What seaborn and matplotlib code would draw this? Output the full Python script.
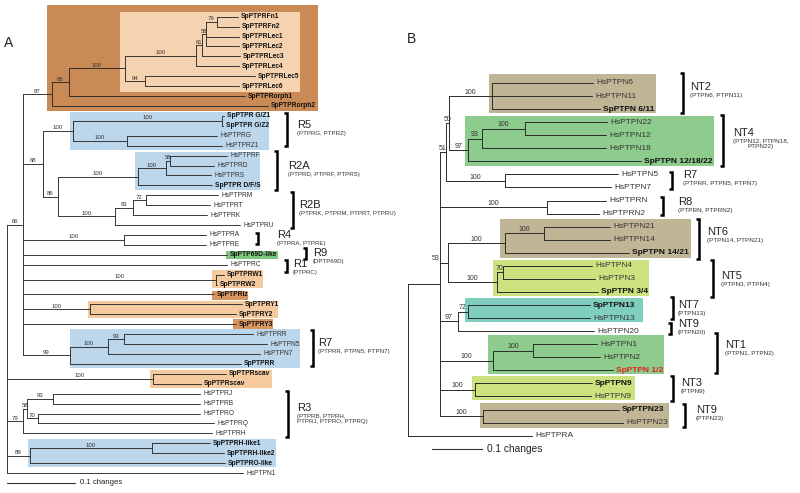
import matplotlib
matplotlib.use("Agg")
import matplotlib.pyplot as plt
import seaborn as sns
import pandas as pd
from matplotlib.patches import Rectangle

# ---------------- data: trees as Newick clades (branch lengths in scale units, 68 = 0.1 changes in A, 50 = 0.1 in B)
A_FN = "('SpPTPRFn1':21,'SpPTPRFn2':22)79:11"
A_LEC = "(((" + A_FN + ",'SpPTPRLec1':33,'SpPTPRLec2':33)58:4,'SpPTPRLec3':38)61:6,'SpPTPRLec4':43)100:71"
A_LEC56 = "('SpPTPRLec5':110,'SpPTPRLec6':94)94:20"
A_ORPH = "(((" + A_LEC + "," + A_LEC56 + ")100:56,'SpPTPRorph1':176)95:17,'SpPTPRorph2':216)87:29"
A_R5 = "(('SpPTPR G/Z1':2,'SpPTPR G/Z2':1)100:149,('HsPTPRG':90,'HsPTPRZ1':95)100:54)100:30"
A_R2A = "((('HsPTPRF':57,'HsPTPRD':44)58:4,'HsPTPRS':45)100:28,'SpPTPR D/F/S':74)100:80"
A_R2B = "((('HsPTPRM':72,'HsPTPRT':64)72:13,'HsPTPRK':74)83:18,'HsPTPRU':125)100:57"
A_R4 = "('HsPTPRA':82,'HsPTPRE':82)100:101"
A_W = "('SpPTPRW1':8,'SpPTPRW2':1)100:193"
A_Y = "('SpPTPRY1':152,'SpPTPRY2':146)100:67"
A_R7 = "((('HsPTPRR':129,'HsPTPN5':143)93:16,'HsPTPN7':152)100:38,'SpPTPRR':171)99:47"
A_SCAV = "('SpPTPRscav':73,'SpPTPRscav':48)100:146"
A_R3 = "((('HsPTPRJ':147,'HsPTPRB':147)93:26,('HsPTPRO':162,'HsPTPRQ':176)70:11)58:4,'HsPTPRH':189)79:16"
A_HLIKE = "(('SpPTPRH-like1':58,'SpPTPRH-like2':72)100:122,'SpPTPRO-like':195)89:23"
TREE_A = ("((" + A_ORPH + ",(" + A_R5 + ",(" + A_R2A + "," + A_R2B + ")86:15)68:20," + A_R4 +
          ",'SpPTP69D-like':204,'HsPTPRC':204," + A_W + ",'SpPTPRiz':191," + A_Y +
          ",'SpPTPRY3':213," + A_R7 + ")66:16," + A_SCAV + "," + A_R3 + "," + A_HLIKE +
          ",'HsPTPN1':236);")

B_NT2 = "('HsPTPN6':101,'HsPTPN11':100,'SpPTPN 6/11':108)100:43"
B_NT4 = "((('HsPTPN22':82,'HsPTPN12':81)100:43,'HsPTPN18':124)93:14,'SpPTPN 12/18/22':173)97:19"
B_R7 = "('HsPTPN5':113,'HsPTPN7':106)100:59"
B_R8 = "('HsPTPRN':59,'HsPTPRN2':52)100:107"
B_NT6 = "(('HsPTPN21':66,'HsPTPN14':66)100:39,'SpPTPN 14/21':124)100:57"
B_NT5 = "(('HsPTPN4':89,'HsPTPN3':92)70:6,'SpPTPN 3/4':101)100:49"
B_NT79 = "(('SpPTPN13':122,'HsPTPN13':122)72:10,'HsPTPN20':136)97:18"
B_NT1 = "(('HsPTPN1':64,'HsPTPN2':67)100:40,'SpPTPN 1/2':120)100:53"
B_NT3 = "('SpPTPN9':117,'HsPTPN9':116)100:35"
B_NT9 = "('SpPTPN23':136,'HsPTPN23':140)100:43"
TREE_B = ("((((" + B_NT2 + "," + B_NT4 + ")50:3," + B_R7 + ")51:6," + B_R8 + ",(" + B_NT6 + "," +
          B_NT5 + ")53:8," + B_NT79 + "," + B_NT1 + "," + B_NT3 + "," + B_NT9 + "):32,'HsPTPRA':124);")

SCALE_UNITS_A = 68.0   # scale units per 0.1 changes
SCALE_UNITS_B = 50.0
HIGHLIGHT_RED = ["SpPTPN 1/2"]

# clade labels: (name, members)
GROUPS_A = [("R5", "(PTPRG, PTPRZ)"), ("R2A", "(PTPRD, PTPRF, PTPRS)"),
            ("R2B", "(PTPRK, PTPRM, PTPRT, PTPRU)"), ("R4", "(PTPRA, PTPRE)"),
            ("R9", "(DPTP69D)"), ("R1", "(PTPRC)"), ("R7", "(PTPRR, PTPN5, PTPN7)"),
            ("R3", "(PTPRB, PTPRH,\nPTPRJ, PTPRO, PTPRQ)")]
GROUPS_B = [("NT2", "(PTPN6, PTPN11)"), ("NT4", "(PTPN12, PTPN18,\nPTPN22)"),
            ("R7", "(PTPRR, PTPN5, PTPN7)"), ("R8", "(PTPRN, PTPRN2)"),
            ("NT6", "(PTPN14, PTPN21)"), ("NT5", "(PTPN3, PTPN4)"), ("NT7", "(PTPN13)"),
            ("NT9", "(PTPN20)"), ("NT1", "(PTPN1, PTPN2)"), ("NT3", "(PTPN9)"),
            ("NT9", "(PTPN23)")]

# ---------------- layout (pixels of the 800x493 canvas)
# bracket: x, y0, y1, text x, name y
BRK_A = [(287, 113, 146, 297, 125), (277, 151, 190, 288, 166),
         (293, 192, 228, 299, 205), (258, 233, 244, 277, 235),
         (306, 248, 259, 313, 253), (287, 260, 272, 293, 264),
         (313, 330, 366, 318, 343), (288, 391, 437, 297, 408)]
BRK_B = [(683, 73, 113, 690, 87), (723, 115, 166, 733, 133),
         (672, 172, 189, 683, 175), (663, 197, 215, 678, 202),
         (699, 219, 259, 707, 232), (713, 260, 297, 721, 276),
         (673, 297, 319, 678, 305), (671, 323, 334, 678, 324),
         (717, 333, 373, 725, 345), (673, 376, 401, 681, 383),
         (685, 404, 427, 696, 410)]
SUB_ALIGN_B = {1: "center"}
SUPPORT_SHIFT_B = {"53": -6.0}   # points

BLUE, BROWN, PEACH, ORANGE, DORANGE = "#BCD6EB", "#C98A55", "#F6D3B0", "#F6CA9F", "#D9955E"
GREEN, TAN, LIME, TEAL = "#8DCC8D", "#C0B595", "#CBE27E", "#80CEBE"
BOX_A = [(47, 5, 318, 111, BROWN), (120, 12, 300, 92, PEACH), (70, 112, 269, 150, BLUE),
         (135, 152, 260, 190, BLUE), (226, 251, 278, 259, "#7CC77C"), (212, 270, 263, 288, ORANGE),
         (212, 291, 248, 300, DORANGE), (88, 301, 278, 318, ORANGE), (233, 319, 273, 329, DORANGE),
         (70, 329, 300, 368, BLUE), (150, 370, 272, 388, ORANGE), (28, 439, 276, 467, BLUE)]
BOX_B = [(489, 74, 656, 113, TAN), (465, 116, 714, 166, GREEN), (500, 219, 691, 258, TAN),
         (493, 260, 649, 296, LIME), (465, 298, 643, 322, TEAL), (488, 335, 664, 374, GREEN),
         (472, 376, 635, 400, LIME), (480, 403, 669, 428, TAN)]


def parse_newick(text):
    pos = 0

    def skip():
        nonlocal pos
        while pos < len(text) and text[pos].isspace():
            pos += 1

    def read_label():
        nonlocal pos
        skip()
        if pos < len(text) and text[pos] == "'":
            end = text.index("'", pos + 1)
            lab = text[pos + 1:end]
            pos = end + 1
            return lab
        start = pos
        while pos < len(text) and text[pos] not in ",():;":
            pos += 1
        return text[start:pos].strip()

    def read_length():
        nonlocal pos
        skip()
        if pos < len(text) and text[pos] == ":":
            pos += 1
            start = pos
            while pos < len(text) and text[pos] not in ",();":
                pos += 1
            return float(text[start:pos])
        return 0.0

    def node():
        nonlocal pos
        skip()
        n = {"children": [], "name": None, "support": None}
        if text[pos] == "(":
            pos += 1
            while True:
                n["children"].append(node())
                skip()
                ch = text[pos]
                pos += 1
                if ch == ")":
                    break
            n["support"] = read_label() or None
        else:
            n["name"] = read_label()
        n["length"] = read_length()
        return n

    return node()


def layout(root, unit_per_tenth):
    leaves, nodes = [], []

    def walk(n, px, parent):
        n["x"] = px + n["length"] * 0.1 / unit_per_tenth
        n["parent"] = parent
        if n["children"]:
            for c in n["children"]:
                walk(c, n["x"], n)
            n["y"] = (n["children"][0]["y"] + n["children"][-1]["y"]) / 2
        else:
            n["y"] = len(leaves)
            leaves.append(n)
        nodes.append(n)

    walk(root, 0.0, None)
    return leaves, nodes


FONT = "Liberation Sans"
sns.set_theme(style="white")
plt.rcParams["font.family"] = [FONT, "DejaVu Sans"]

W, H = 800, 493
fig = plt.figure(figsize=(8, 4.93), dpi=100)
fig.patch.set_facecolor("white")

PANELS = [
    dict(tree=TREE_A, unit=SCALE_UNITS_A, rect=[0, 0, 0.5, 1], px0=0, px1=400, root_px=7,
         px_per_change=680, row0=16.7, row=9.92, boxes=BOX_A, brk=BRK_A, groups=GROUPS_A,
         leaf_fs=4.8, sup_fs=4.3, name_fs=8.0, sub_fs=4.4, letter="A", letter_xy=(9, 43),
         bar=(7, 483, 5.6), sub_align={}, shift={}, lw=0.65),
    dict(tree=TREE_B, unit=SCALE_UNITS_B, rect=[0.5, 0, 0.5, 1], px0=400, px1=800, root_px=408,
         px_per_change=500, row0=83, row=13.06, boxes=BOX_B, brk=BRK_B, groups=GROUPS_B,
         leaf_fs=6.0, sup_fs=5.0, name_fs=8.0, sub_fs=4.6, letter="B", letter_xy=(411, 39),
         bar=(432, 449, 7.3), sub_align=SUB_ALIGN_B, shift=SUPPORT_SHIFT_B, lw=0.7),
]

for P in PANELS:
    ax = fig.add_axes(P["rect"])
    root = parse_newick(P["tree"])
    leaves, nodes = layout(root, P["unit"])

    def dx(px, P=P):
        return (px - P["root_px"]) / P["px_per_change"]

    def dy(py, P=P):
        return (py - P["row0"]) / P["row"]

    # coloured clade boxes
    for (x0, y0, x1, y1, col) in P["boxes"]:
        ax.add_patch(Rectangle((dx(x0), dy(y0)), dx(x1) - dx(x0), dy(y1) - dy(y0),
                               facecolor=col, edgecolor="none", zorder=0))

    # tree segments
    rows, seg = [], 0
    for n in nodes:
        if n["parent"] is not None:
            rows += [(seg, n["parent"]["x"], n["y"]), (seg, n["x"], n["y"])]
            seg += 1
        if n["children"]:
            rows += [(seg, n["x"], n["children"][0]["y"]), (seg, n["x"], n["children"][-1]["y"])]
            seg += 1
    df = pd.DataFrame(rows, columns=["seg", "x", "y"])
    sns.lineplot(data=df, x="x", y="y", units="seg", estimator=None, sort=False,
                 color="#2b2b2b", linewidth=P["lw"], ax=ax, legend=False, zorder=2)

    # leaf labels
    for lf in leaves:
        name = lf["name"]
        sp = name.startswith("Sp")
        col = "#E3211C" if name in HIGHLIGHT_RED else ("#111111" if sp else "#333333")
        ax.annotate(name, (lf["x"], lf["y"]), xytext=(2.3, 0), textcoords="offset points",
                    ha="left", va="center", fontsize=P["leaf_fs"],
                    fontweight="bold" if sp else "normal", color=col, zorder=3)

    # bootstrap support
    for n in nodes:
        if n["support"] and n["parent"] is not None:
            xm = (n["parent"]["x"] + n["x"]) / 2
            ax.annotate(n["support"], (xm, n["y"]), xytext=(P["shift"].get(n["support"], 0), 0.3),
                        textcoords="offset points", ha="center", va="bottom",
                        fontsize=P["sup_fs"], color="#333333", zorder=3)

    # brackets with group names
    for i, ((bx, y0, y1, tx, ny), (gname, gsub)) in enumerate(zip(P["brk"], P["groups"])):
        tick = 3.5
        ax.plot([dx(bx - tick), dx(bx), dx(bx), dx(bx - tick)], [dy(y0), dy(y0), dy(y1), dy(y1)],
                color="black", lw=1.8, solid_joinstyle="miter", solid_capstyle="butt", zorder=3)
        ax.text(dx(tx), dy(ny), gname, ha="left", va="center", fontsize=P["name_fs"], color="#222222")
        al = P["sub_align"].get(i, "left")
        ax.text(dx(tx), dy(ny + 6), gsub, ha="left", va="top", fontsize=P["sub_fs"], color="#333333",
                multialignment=al, linespacing=1.05)

    # scale bar
    bx0, by, bfs = P["bar"]
    ax.plot([dx(bx0), dx(bx0) + 0.1], [dy(by), dy(by)], color="#333333", lw=0.8)
    ax.annotate("0.1 changes", (dx(bx0) + 0.1, dy(by)), xytext=(3.5, 0), textcoords="offset points",
                ha="left", va="center", fontsize=bfs, color="#222222")

    # panel letter
    ax.text(dx(P["letter_xy"][0]), dy(P["letter_xy"][1]), P["letter"], ha="center", va="center",
            fontsize=10, color="#222222")

    ax.set_xlim(dx(P["px0"]), dx(P["px1"]))
    ax.set_ylim(dy(H), dy(0))
    ax.axis("off")

fig.savefig("out.png", dpi=100, facecolor="white")
